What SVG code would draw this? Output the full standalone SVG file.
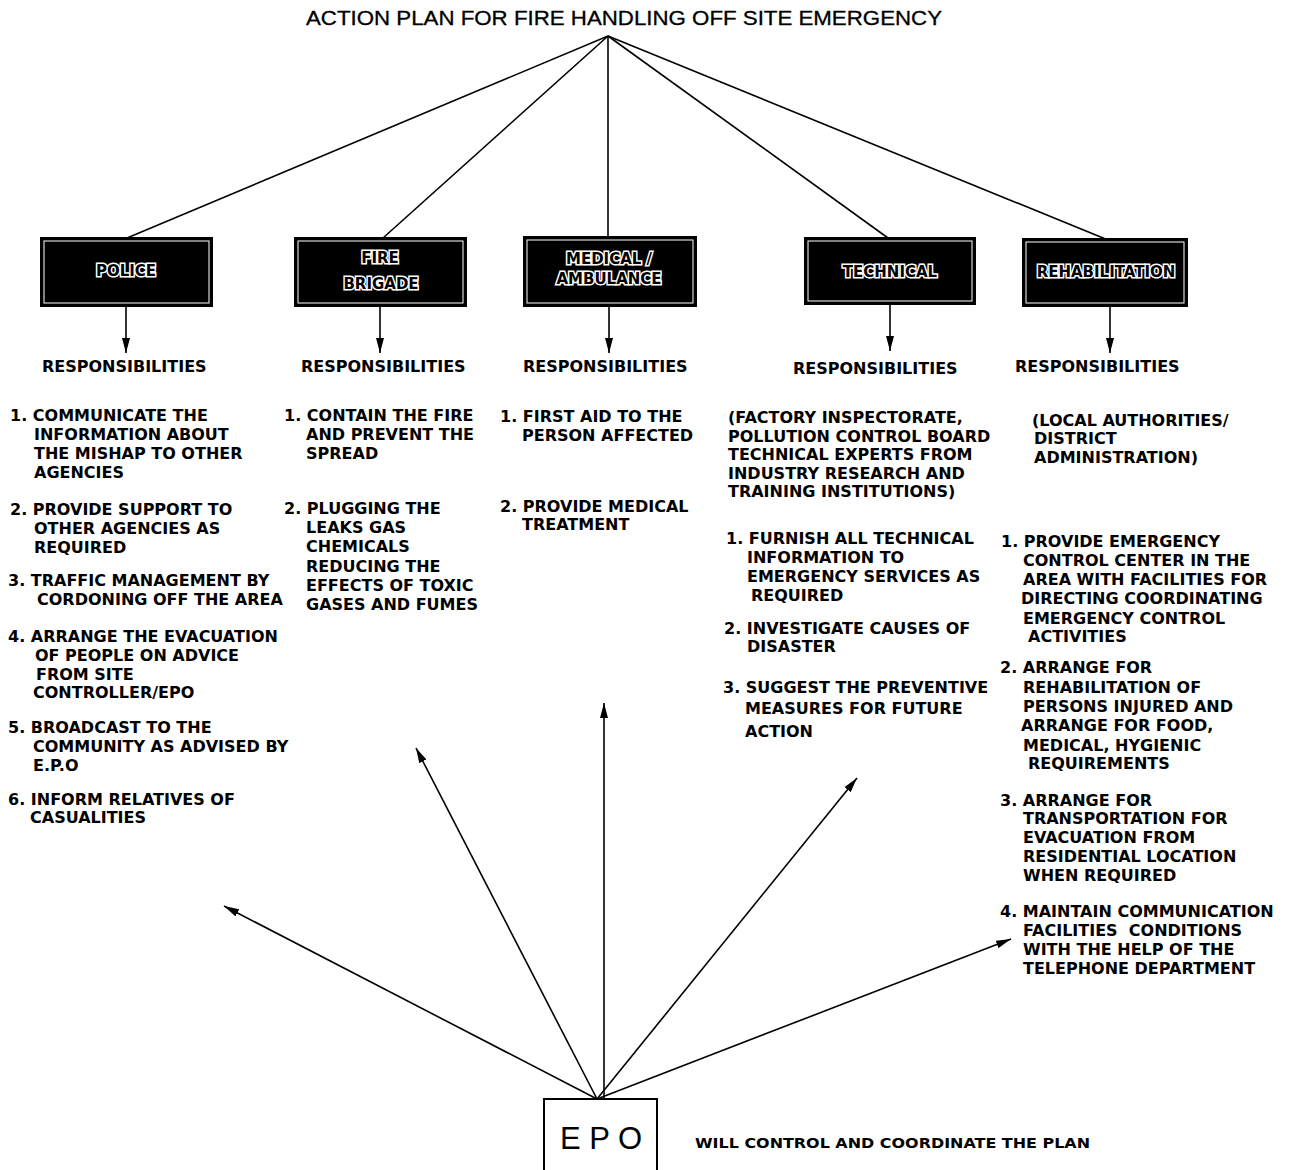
<svg xmlns="http://www.w3.org/2000/svg" width="1289" height="1170" viewBox="0 0 1289 1170">
<style>
.t{font-family:"DejaVu Sans",Verdana,sans-serif;font-weight:bold;font-size:16px;fill:#000}
.lbl{font-family:"DejaVu Sans",Verdana,sans-serif;font-weight:bold;font-size:15px;fill:#000;stroke:#fff;stroke-width:3;paint-order:stroke;text-anchor:middle}
.box{fill:#000;stroke:#000;stroke-width:2}
.inner{fill:none;stroke:#fff;stroke-width:1}
.ln{stroke:#000;stroke-width:1.6;fill:none}
.ar{stroke:#000;stroke-width:1.6;fill:none;marker-end:url(#ah)}
</style>
<defs>
<marker id="ah" markerUnits="userSpaceOnUse" markerWidth="16" markerHeight="8" refX="15" refY="4" orient="auto">
<path d="M0,0 L15,4 L0,8 z" fill="#000"/>
</marker>
</defs>
<rect width="1289" height="1170" fill="#fff"/>

<g id="title">
<text x="306" y="25" font-family="Liberation Sans, Arial, sans-serif" font-size="20" stroke="#000" stroke-width="0.3" textLength="636" lengthAdjust="spacingAndGlyphs">ACTION PLAN FOR FIRE HANDLING OFF SITE EMERGENCY</text>
</g>

<g id="connectors">
<line class="ln" x1="608" y1="36" x2="127" y2="238"/>
<line class="ln" x1="608" y1="36" x2="383" y2="238"/>
<line class="ln" x1="608" y1="36" x2="608" y2="237"/>
<line class="ln" x1="608" y1="36" x2="888" y2="238"/>
<line class="ln" x1="608" y1="36" x2="1108" y2="240"/>
<line class="ar" x1="126" y1="307" x2="126" y2="353"/>
<line class="ar" x1="380" y1="307" x2="380" y2="353"/>
<line class="ar" x1="609" y1="307" x2="609" y2="353"/>
<line class="ar" x1="890" y1="304" x2="890" y2="351"/>
<line class="ar" x1="1110" y1="307" x2="1110" y2="353"/>
<line class="ar" x1="597" y1="1099" x2="224" y2="906"/>
<line class="ar" x1="597" y1="1099" x2="416" y2="748"/>
<line class="ar" x1="604" y1="1099" x2="604" y2="703"/>
<line class="ar" x1="597" y1="1099" x2="857" y2="778"/>
<line class="ar" x1="597" y1="1099" x2="1011" y2="939"/>
</g>

<g id="police">
<rect class="box" x="41" y="238" width="171" height="68"/>
<rect class="inner" x="44" y="241" width="165" height="62"/>
<text class="lbl" x="126" y="276">POLICE</text>
<text class="t" x="42" y="372">RESPONSIBILITIES</text>
<text class="t" x="10" y="421">1. COMMUNICATE THE</text>
<text class="t" x="34" y="440">INFORMATION ABOUT</text>
<text class="t" x="34" y="459">THE MISHAP TO OTHER</text>
<text class="t" x="34" y="478">AGENCIES</text>
<text class="t" x="10" y="515">2. PROVIDE SUPPORT TO</text>
<text class="t" x="34" y="534">OTHER AGENCIES AS</text>
<text class="t" x="34" y="553">REQUIRED</text>
<text class="t" x="8" y="586">3. TRAFFIC MANAGEMENT BY</text>
<text class="t" x="37" y="605">CORDONING OFF THE AREA</text>
<text class="t" x="8" y="642">4. ARRANGE THE EVACUATION</text>
<text class="t" x="35" y="661">OF PEOPLE ON ADVICE</text>
<text class="t" x="36" y="680">FROM SITE</text>
<text class="t" x="33" y="698">CONTROLLER/EPO</text>
<text class="t" x="8" y="733">5. BROADCAST TO THE</text>
<text class="t" x="33" y="752">COMMUNITY AS ADVISED BY</text>
<text class="t" x="33" y="771">E.P.O</text>
<text class="t" x="8" y="805">6. INFORM RELATIVES OF</text>
<text class="t" x="30" y="823">CASUALITIES</text>
</g>

<g id="fire-brigade">
<rect class="box" x="295" y="238" width="171" height="68"/>
<rect class="inner" x="298" y="241" width="165" height="62"/>
<text class="lbl" x="380" y="263">FIRE</text>
<text class="lbl" x="381" y="289">BRIGADE</text>
<text class="t" x="301" y="372">RESPONSIBILITIES</text>
<text class="t" x="284" y="421">1. CONTAIN THE FIRE</text>
<text class="t" x="306" y="440">AND PREVENT THE</text>
<text class="t" x="306" y="459">SPREAD</text>
<text class="t" x="284" y="514">2. PLUGGING THE</text>
<text class="t" x="306" y="533">LEAKS GAS</text>
<text class="t" x="306" y="552">CHEMICALS</text>
<text class="t" x="306" y="572">REDUCING THE</text>
<text class="t" x="306" y="591">EFFECTS OF TOXIC</text>
<text class="t" x="306" y="610">GASES AND FUMES</text>
</g>

<g id="medical">
<rect class="box" x="524" y="237" width="172" height="69"/>
<rect class="inner" x="527" y="240" width="166" height="63"/>
<text class="lbl" x="609" y="264">MEDICAL /</text>
<text class="lbl" x="609" y="284">AMBULANCE</text>
<text class="t" x="523" y="372">RESPONSIBILITIES</text>
<text class="t" x="500" y="422">1. FIRST AID TO THE</text>
<text class="t" x="522" y="441">PERSON AFFECTED</text>
<text class="t" x="500" y="512">2. PROVIDE MEDICAL</text>
<text class="t" x="522" y="530">TREATMENT</text>
</g>

<g id="technical">
<rect class="box" x="805" y="238" width="170" height="66"/>
<rect class="inner" x="808" y="241" width="164" height="60"/>
<text class="lbl" x="890" y="277">TECHNICAL</text>
<text class="t" x="793" y="374">RESPONSIBILITIES</text>
<text class="t" x="728" y="423">(FACTORY INSPECTORATE,</text>
<text class="t" x="728" y="442">POLLUTION CONTROL BOARD</text>
<text class="t" x="728" y="460">TECHNICAL EXPERTS FROM</text>
<text class="t" x="728" y="479">INDUSTRY RESEARCH AND</text>
<text class="t" x="728" y="497">TRAINING INSTITUTIONS)</text>
<text class="t" x="726" y="544">1. FURNISH ALL TECHNICAL</text>
<text class="t" x="747" y="563">INFORMATION TO</text>
<text class="t" x="747" y="582">EMERGENCY SERVICES AS</text>
<text class="t" x="751" y="601">REQUIRED</text>
<text class="t" x="724" y="634">2. INVESTIGATE CAUSES OF</text>
<text class="t" x="747" y="652">DISASTER</text>
<text class="t" x="723" y="693">3. SUGGEST THE PREVENTIVE</text>
<text class="t" x="745" y="714">MEASURES FOR FUTURE</text>
<text class="t" x="745" y="737">ACTION</text>
</g>

<g id="rehabilitation">
<rect class="box" x="1023" y="239" width="164" height="67"/>
<rect class="inner" x="1026" y="242" width="158" height="61"/>
<text class="lbl" x="1106" y="277">REHABILITATION</text>
<text class="t" x="1015" y="372">RESPONSIBILITIES</text>
<text class="t" x="1032" y="426">(LOCAL AUTHORITIES/</text>
<text class="t" x="1034" y="444">DISTRICT</text>
<text class="t" x="1034" y="463">ADMINISTRATION)</text>
<text class="t" x="1001" y="547">1. PROVIDE EMERGENCY</text>
<text class="t" x="1023" y="566">CONTROL CENTER IN THE</text>
<text class="t" x="1023" y="585">AREA WITH FACILITIES FOR</text>
<text class="t" x="1021" y="604">DIRECTING COORDINATING</text>
<text class="t" x="1023" y="624">EMERGENCY CONTROL</text>
<text class="t" x="1028" y="642">ACTIVITIES</text>
<text class="t" x="1000" y="673">2. ARRANGE FOR</text>
<text class="t" x="1023" y="693">REHABILITATION OF</text>
<text class="t" x="1023" y="712">PERSONS INJURED AND</text>
<text class="t" x="1021" y="731">ARRANGE FOR FOOD,</text>
<text class="t" x="1023" y="751">MEDICAL, HYGIENIC</text>
<text class="t" x="1028" y="769">REQUIREMENTS</text>
<text class="t" x="1000" y="806">3. ARRANGE FOR</text>
<text class="t" x="1023" y="824">TRANSPORTATION FOR</text>
<text class="t" x="1023" y="843">EVACUATION FROM</text>
<text class="t" x="1023" y="862">RESIDENTIAL LOCATION</text>
<text class="t" x="1023" y="881">WHEN REQUIRED</text>
<text class="t" x="1000" y="917">4. MAINTAIN COMMUNICATION</text>
<text class="t" x="1023" y="936" style="white-space:pre">FACILITIES  CONDITIONS</text>
<text class="t" x="1023" y="955">WITH THE HELP OF THE</text>
<text class="t" x="1023" y="974">TELEPHONE DEPARTMENT</text>
</g>

<g id="epo">
<rect x="544" y="1099" width="113" height="80" fill="#fff" stroke="#000" stroke-width="2"/>
<text x="601" y="1149" font-family="Liberation Sans, Arial, sans-serif" font-size="31" text-anchor="middle">E P O</text>
<text x="695" y="1148" font-family="DejaVu Sans, Verdana, sans-serif" font-weight="bold" font-size="13.5" textLength="395" lengthAdjust="spacingAndGlyphs">WILL CONTROL AND COORDINATE THE PLAN</text>
</g>
</svg>
